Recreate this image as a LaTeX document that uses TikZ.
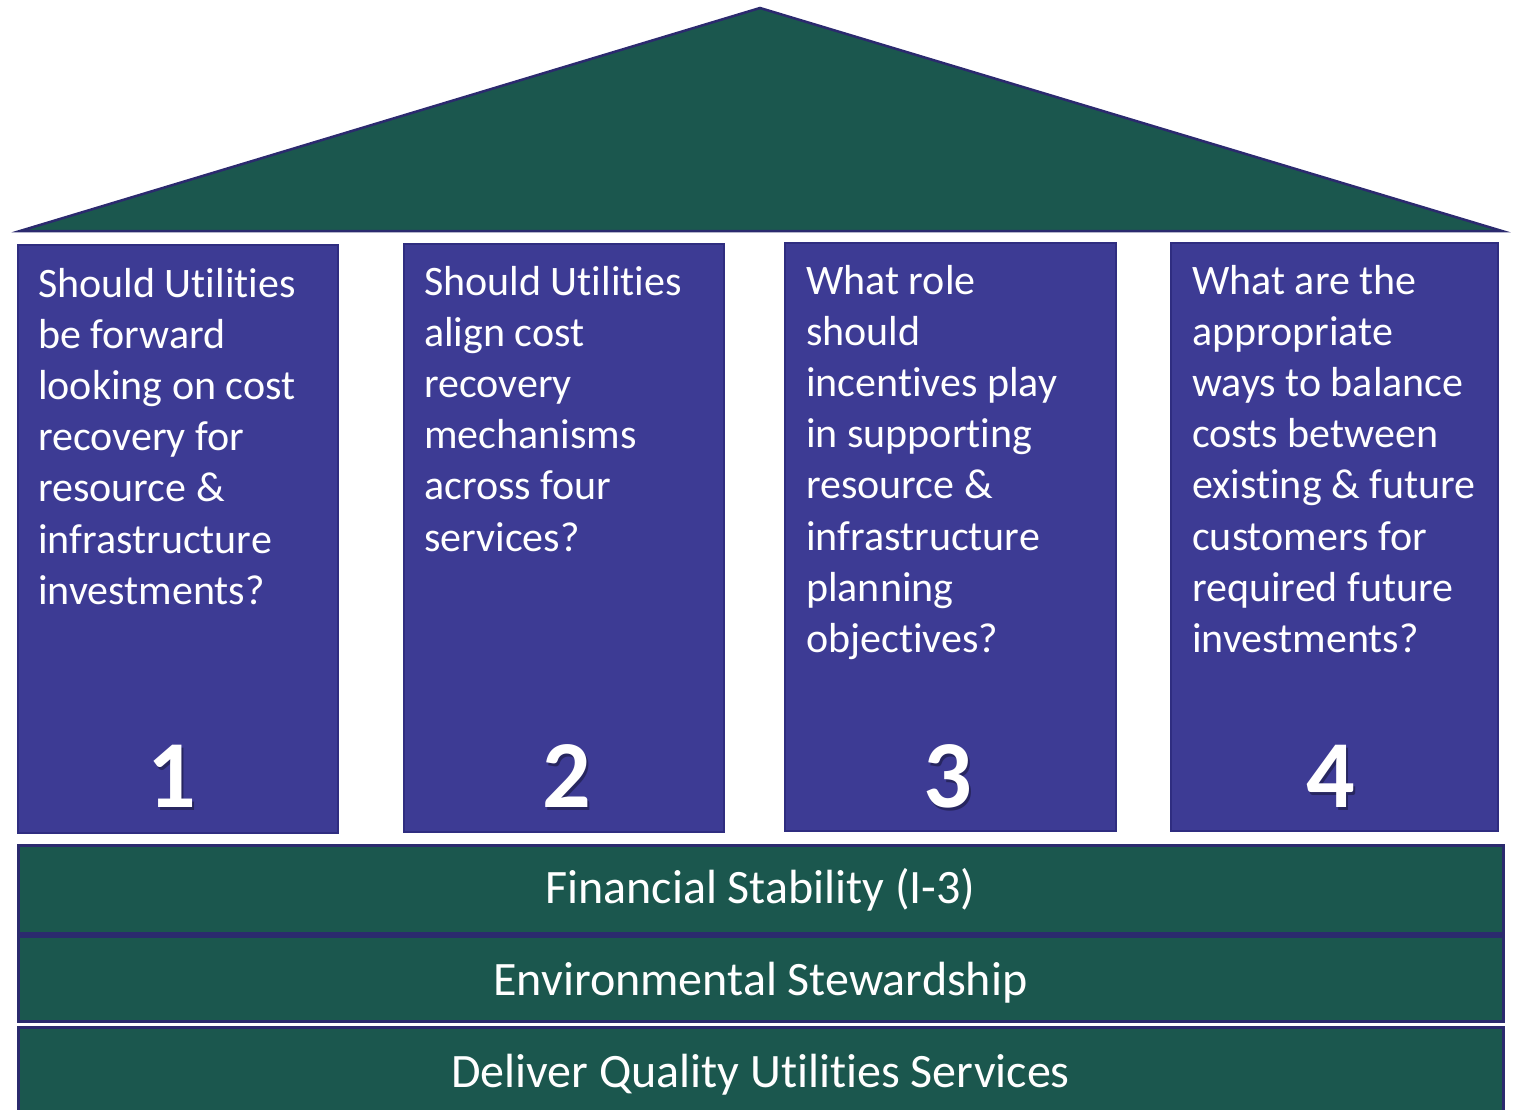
\documentclass[tikz,border=0pt]{standalone}
\usepackage{fontspec}
\setmainfont{Carlito}[Ligatures=NoCommon]
\definecolor{roofgreen}{HTML}{1B574E}
\definecolor{pillarblue}{HTML}{3D3B94}
\definecolor{edgenavy}{HTML}{2B2A6E}
\definecolor{pillaredge}{HTML}{2F2D80}
\tikzset{
  pillar/.style={draw=pillaredge, line width=2pt, fill=pillarblue, inner sep=0pt},
  bar/.style={draw=edgenavy, line width=3pt, fill=roofgreen, inner sep=0pt, minimum width=1485pt},
  bartext/.style={anchor=base, inner sep=0pt, text=white, font=\fontsize{48}{56}\selectfont},
  question/.style={anchor=base west, inner sep=0pt, align=left, text=white, font=\fontsize{42}{51.2}\selectfont},
  numshadow/.style={text=black, opacity=0.35, font=\bfseries\fontsize{96}{96}\selectfont, inner sep=0pt},
  num/.style={text=white, font=\bfseries\fontsize{96}{96}\selectfont, inner sep=0pt},
  roof/.style={draw=edgenavy, line width=2.5pt, fill=roofgreen, line join=miter}
}
\begin{document}
\begin{tikzpicture}[x=1pt,y=-1pt]
\useasboundingbox (0,0) rectangle (1517,1110);
\clip (0,0) rectangle (1517,1110);
% roof
\coordinate (roofL) at (20,231);
\coordinate (roofT) at (760,8);
\coordinate (roofR) at (1502,231);
\draw[roof] (roofL) -- (roofT) -- (roofR) -- cycle;
% pillars
\node[pillar, minimum width=320pt, minimum height=588pt] (p1) at (178,539) {};
\node[pillar, minimum width=320pt, minimum height=588pt] (p2) at (564,538) {};
\node[pillar, minimum width=331pt, minimum height=588pt] (p3) at (950.5,537) {};
\node[pillar, minimum width=327pt, minimum height=588pt] (p4) at (1334.5,537) {};
% questions (anchored at the baseline of the last line)
\node[question] (q1) at (38,604.2) {Should Utilities\\be forward\\looking on cost\\recovery for\\resource \&\\infrastructure\\investments?};
\node[question] (q2) at (424,551) {Should Utilities\\align cost\\recovery\\mechanisms\\across four\\services?};
\node[question] (q3) at (806,652.4) {What role\\should\\incentives play\\in supporting\\resource \&\\infrastructure\\planning\\objectives?};
\node[question] (q4) at (1192,652.4) {What are the\\appropriate\\ways to balance\\costs between\\existing \& future\\customers for\\required future\\investments?};
% numbers
\node[numshadow] (n1s) at (174,779) {1};
\node[num] (n1) at (172,776) {1};
\node[numshadow] (n2s) at (569,779) {2};
\node[num] (n2) at (567,776) {2};
\node[numshadow] (n3s) at (950,779) {3};
\node[num] (n3) at (948,776) {3};
\node[numshadow] (n4s) at (1333,779) {4};
\node[num] (n4) at (1331,776) {4};
% foundation bars
\node[bar, minimum height=88pt] (b1) at (760.5,889) {};
\node[bar, minimum height=85pt] (b2) at (760.5,978.5) {};
\node[bar, minimum height=100pt] (b3) at (760.5,1077) {};
\node[bartext] (b1t) at (760.5,903) {Financial Stability (I-3)};
\node[bartext] (b2t) at (760.5,995) {Environmental Stewardship};
\node[bartext] (b3t) at (760.5,1087) {Deliver Quality Utilities Services};
\end{tikzpicture}
\end{document}
